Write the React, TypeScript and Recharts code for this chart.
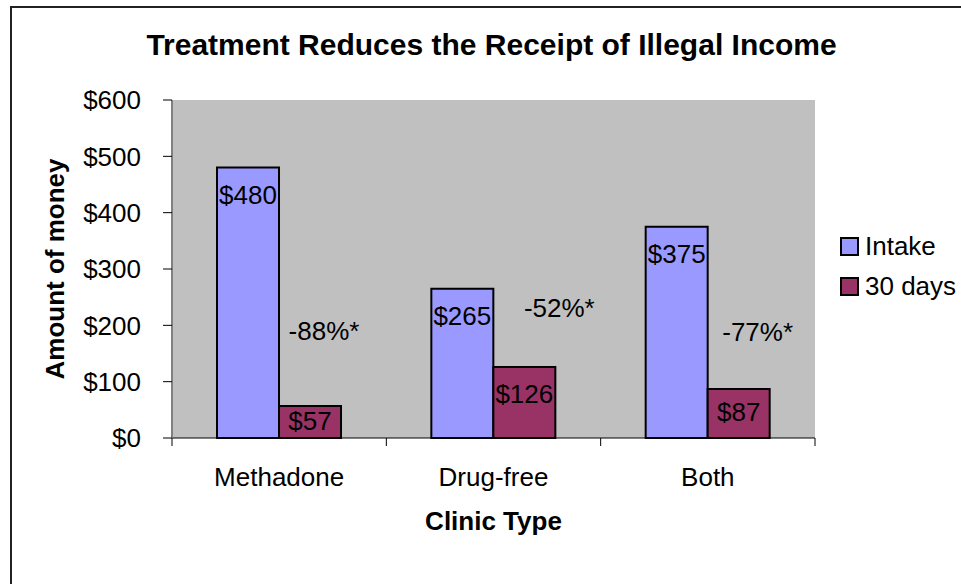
import { BarChart, Bar, XAxis, YAxis, LabelList, Legend, CartesianGrid } from 'recharts';

const clinicTypes = ['Methadone', 'Drug-free', 'Both'];
const intakeValues = [480, 265, 375];
const thirtyDayValues = [57, 126, 87];
const changeLabels = ['-88%*', '-52%*', '-77%*'];
const yTicks = [0, 100, 200, 300, 400, 500, 600];

const FONT = "Arial, 'Liberation Sans', sans-serif";
const INTAKE_COLOR = '#9999FF';
const DAYS_COLOR = '#993366';

// where the free-floating change notes sit, relative to each 30-day bar
const noteShift = [
  { dx: 14, up: 107 },
  { dx: 35, up: 130 },
  { dx: 19, up: 106 },
];

const data = clinicTypes.map((name, i) => ({
  name,
  intake: intakeValues[i],
  days30: thirtyDayValues[i],
  change: changeLabels[i],
}));

function money(v: number) {
  return `$${v}`;
}

function BarValueLabel(props: any) {
  const { x, y, width, height, value } = props;
  const cy = Math.min(y + 27, y + height / 2 - 1);
  return (
    <text x={x + width / 2} y={cy + 9} textAnchor="middle" fontSize={26} fontFamily={FONT} fill="#000">
      {money(value)}
    </text>
  );
}

function ChangeNote(props: any) {
  const { x, y, width, height, index } = props;
  const s = noteShift[index] || { dx: 0, up: 110 };
  const base = y + height;
  return (
    <text x={x + width / 2 + s.dx} y={base - s.up + 9} textAnchor="middle" fontSize={26} fontFamily={FONT} fill="#000">
      {changeLabels[index]}
    </text>
  );
}

function CategoryTick(props: any) {
  const { x, y, payload, index, visibleTicksCount } = props;
  const half = payload && payload.offset ? payload.offset : 107;
  const last = index === visibleTicksCount - 1;
  return (
    <g>
      <line x1={x - half} x2={x - half} y1={y - 8} y2={y} stroke="#000" strokeWidth={1} />
      {last && <line x1={x + half} x2={x + half} y1={y - 8} y2={y} stroke="#000" strokeWidth={1} />}
      <text x={x} y={y + 40} textAnchor="middle" fontSize={26} fontFamily={FONT} fill="#000">
        {payload.value}
      </text>
    </g>
  );
}

function LegendBox() {
  const items = [
    { label: 'Intake', color: INTAKE_COLOR },
    { label: '30 days', color: DAYS_COLOR },
  ];
  return (
    <div style={{ fontFamily: FONT, fontSize: 26, color: '#000' }}>
      {items.map((it) => (
        <div key={it.label} style={{ display: 'flex', alignItems: 'center', height: 40 }}>
          <span
            style={{
              display: 'inline-block',
              width: 15,
              height: 15,
              background: it.color,
              border: '2px solid #000',
              marginRight: 6,
            }}
          />
          <span>{it.label}</span>
        </div>
      ))}
    </div>
  );
}

export default function App() {
  return (
    <div
      style={{
        position: 'absolute',
        left: 0,
        top: 0,
        width: 961,
        height: 584,
        overflow: 'hidden',
        background: '#fff',
      }}
    >
      <div
        style={{
          position: 'absolute',
          left: 10,
          top: 6,
          width: 1200,
          height: 900,
          border: '2px solid #222',
        }}
      />
      <div
        style={{
          position: 'absolute',
          left: 0,
          top: 28,
          width: 983,
          textAlign: 'center',
          fontFamily: FONT,
          fontWeight: 'bold',
          fontSize: 30,
          color: '#000',
        }}
      >
        Treatment Reduces the Receipt of Illegal Income
      </div>
      <div style={{ position: 'absolute', left: 0, top: 0 }}>
        <BarChart
          width={961}
          height={584}
          data={data}
          margin={{ top: 100, right: 146, bottom: 86, left: 0 }}
          barCategoryGap="21%"
          barGap={0}
        >
          <CartesianGrid fill="#C0C0C0" horizontal={false} vertical={false} />
          <XAxis
            dataKey="name"
            height={60}
            axisLine={{ stroke: '#000', strokeWidth: 1 }}
            tickLine={false}
            tickSize={8}
            tickMargin={0}
            tick={<CategoryTick />}
            interval={0}
            label={{
              value: 'Clinic Type',
              position: 'insideBottom',
              offset: -32,
              fontSize: 26,
              fontWeight: 'bold',
              fontFamily: FONT,
              fill: '#000',
            }}
          />
          <XAxis
            xAxisId="top"
            dataKey="name"
            orientation="top"
            height={0}
            tick={false}
            tickLine={false}
            axisLine={{ stroke: '#808080', strokeWidth: 2 }}
          />
          <YAxis
            width={172}
            domain={[0, 600]}
            ticks={yTicks}
            tickFormatter={money}
            interval={0}
            tickSize={9}
            tickMargin={22}
            axisLine={{ stroke: '#808080', strokeWidth: 2 }}
            tickLine={{ stroke: '#000', strokeWidth: 1 }}
            tick={{ fontSize: 26, fontFamily: FONT, fill: '#000' }}
            label={(p: any) => {
              const vb = p.viewBox || { x: 0, y: 100, width: 172, height: 338 };
              const cx = 55;
              const cy = vb.y + vb.height / 2;
              return (
                <text
                  x={cx}
                  y={cy}
                  transform={`rotate(-90, ${cx}, ${cy})`}
                  textAnchor="middle"
                  dominantBaseline="central"
                  fontSize={26}
                  fontWeight="bold"
                  fontFamily={FONT}
                  fill="#000"
                >
                  Amount of money
                </text>
              );
            }}
          />
          <YAxis
            yAxisId="right"
            orientation="right"
            width={0}
            domain={[0, 600]}
            tick={false}
            tickLine={false}
            axisLine={{ stroke: '#808080', strokeWidth: 2 }}
          />
          <Legend
            layout="vertical"
            align="center"
            verticalAlign="middle"
            content={<LegendBox />}
            wrapperStyle={{ left: 840, top: 226, width: 121, height: 80 }}
          />
          <Bar dataKey="intake" name="Intake" fill={INTAKE_COLOR} stroke="#000" strokeWidth={2} isAnimationActive={false}>
            <LabelList dataKey="intake" content={<BarValueLabel />} />
          </Bar>
          <Bar dataKey="days30" name="30 days" fill={DAYS_COLOR} stroke="#000" strokeWidth={2} isAnimationActive={false}>
            <LabelList dataKey="days30" content={<BarValueLabel />} />
            <LabelList dataKey="change" content={<ChangeNote />} />
          </Bar>
        </BarChart>
      </div>
    </div>
  );
}
